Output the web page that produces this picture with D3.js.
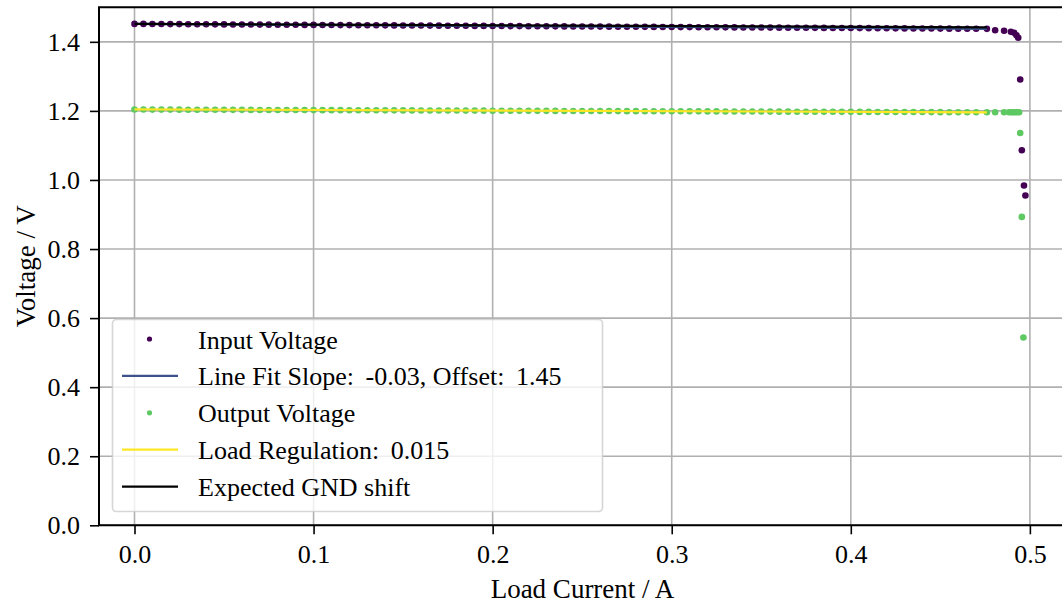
<!DOCTYPE html>
<html>
<head>
<meta charset="utf-8">
<script src="https://cdn.jsdelivr.net/npm/d3@7"></script>
<style>
  html, body { margin: 0; padding: 0; background: #fff; overflow: hidden; }
  text { font-family: 'Liberation Serif', 'Times New Roman', serif; fill: #000; }
</style>
</head>
<body>
<div id="myDiv"></div>
<script>
//--------------------------------------------------
// Data
//--------------------------------------------------
var inputCurrent = [
  0.000,0.005,0.010,0.015,0.020,0.025,0.030,0.035,0.040,0.045,
  0.050,0.055,0.060,0.065,0.070,0.075,0.080,0.085,0.090,0.095,
  0.100,0.105,0.110,0.115,0.120,0.125,0.130,0.135,0.140,0.145,
  0.150,0.155,0.160,0.165,0.170,0.175,0.180,0.185,0.190,0.195,
  0.200,0.205,0.210,0.215,0.220,0.225,0.230,0.235,0.240,0.245,
  0.250,0.255,0.260,0.265,0.270,0.275,0.280,0.285,0.290,0.295,
  0.300,0.305,0.310,0.315,0.320,0.325,0.330,0.335,0.340,0.345,
  0.350,0.355,0.360,0.365,0.370,0.375,0.380,0.385,0.390,0.395,
  0.400,0.405,0.410,0.415,0.420,0.425,0.430,0.435,0.440,0.445,
  0.450,0.455,0.460,0.465,0.470,0.476,
  0.4806,0.4856,0.4894,0.4912,0.4925,0.4935,0.4946,0.4955,0.4967,0.4975
];
var inputVoltage = [
  1.4520,1.4519,1.4517,1.4516,1.4514,1.4513,1.4511,1.4510,1.4508,1.4506,
  1.4505,1.4503,1.4502,1.4500,1.4499,1.4497,1.4496,1.4494,1.4493,1.4491,
  1.4490,1.4488,1.4487,1.4485,1.4484,1.4482,1.4481,1.4479,1.4478,1.4476,
  1.4475,1.4473,1.4472,1.4470,1.4469,1.4467,1.4466,1.4464,1.4462,1.4461,
  1.4459,1.4458,1.4456,1.4455,1.4453,1.4452,1.4450,1.4449,1.4447,1.4446,
  1.4444,1.4443,1.4441,1.4440,1.4438,1.4437,1.4435,1.4434,1.4432,1.4431,
  1.4429,1.4427,1.4426,1.4424,1.4423,1.4421,1.4420,1.4418,1.4417,1.4415,
  1.4414,1.4412,1.4411,1.4409,1.4408,1.4406,1.4405,1.4403,1.4402,1.4400,
  1.4399,1.4397,1.4396,1.4394,1.4392,1.4391,1.4389,1.4388,1.4386,1.4385,
  1.4383,1.4382,1.4380,1.4379,1.4377,1.4376,
  1.4336,1.4320,1.4290,1.4260,1.4190,1.4120,1.2910,1.0860,0.9840,0.9550
];
var outputCurrent = [
  0.000,0.005,0.010,0.015,0.020,0.025,0.030,0.035,0.040,0.045,
  0.050,0.055,0.060,0.065,0.070,0.075,0.080,0.085,0.090,0.095,
  0.100,0.105,0.110,0.115,0.120,0.125,0.130,0.135,0.140,0.145,
  0.150,0.155,0.160,0.165,0.170,0.175,0.180,0.185,0.190,0.195,
  0.200,0.205,0.210,0.215,0.220,0.225,0.230,0.235,0.240,0.245,
  0.250,0.255,0.260,0.265,0.270,0.275,0.280,0.285,0.290,0.295,
  0.300,0.305,0.310,0.315,0.320,0.325,0.330,0.335,0.340,0.345,
  0.350,0.355,0.360,0.365,0.370,0.375,0.380,0.385,0.390,0.395,
  0.400,0.405,0.410,0.415,0.420,0.425,0.430,0.435,0.440,0.445,
  0.450,0.455,0.460,0.465,0.470,0.476,
  0.4806,0.4856,0.4884,0.4896,0.4907,0.4918,0.4929,0.4940,0.4946,0.4955,0.4964
];
var outputVoltage = [
  1.2040,1.2039,1.2038,1.2038,1.2037,1.2036,1.2035,1.2034,1.2033,1.2032,
  1.2032,1.2031,1.2030,1.2029,1.2028,1.2027,1.2027,1.2026,1.2025,1.2024,
  1.2023,1.2022,1.2021,1.2021,1.2020,1.2019,1.2018,1.2017,1.2016,1.2016,
  1.2015,1.2014,1.2013,1.2012,1.2011,1.2010,1.2010,1.2009,1.2008,1.2007,
  1.2006,1.2005,1.2004,1.2004,1.2003,1.2002,1.2001,1.2000,1.1999,1.1999,
  1.1998,1.1997,1.1996,1.1995,1.1994,1.1993,1.1993,1.1992,1.1991,1.1990,
  1.1989,1.1988,1.1988,1.1987,1.1986,1.1985,1.1984,1.1983,1.1982,1.1982,
  1.1981,1.1980,1.1979,1.1978,1.1977,1.1977,1.1976,1.1975,1.1974,1.1973,
  1.1972,1.1971,1.1971,1.1970,1.1969,1.1968,1.1967,1.1966,1.1966,1.1965,
  1.1964,1.1963,1.1962,1.1961,1.1960,1.1960,
  1.1960,1.1960,1.1960,1.1960,1.1960,1.1960,1.1960,1.1960,1.1360,0.8930,0.5440
];

// fitted lines (two end points each)
var fitCurrent = [0, 0.476];
var lineFitVoltage = [1.4520, 1.4377];
var loadRegVoltage = [1.2045, 1.1960];
var gndShiftVoltage = [1.4520, 1.4420];

var xTicks = [0.0, 0.1, 0.2, 0.3, 0.4, 0.5];
var yTicks = [0.0, 0.2, 0.4, 0.6, 0.8, 1.0, 1.2, 1.4];

var legendLabels = [
  'Input Voltage',
  'Line Fit Slope: -0.03, Offset: 1.45',
  'Output Voltage',
  'Load Regulation: 0.015',
  'Expected GND shift'
];

//--------------------------------------------------
// Style
//--------------------------------------------------
var inColor = '#440154';
var fitColor = '#3b528b';
var outColor = '#5ec962';
var regColor = '#fde725';
var gndColor = '#000000';
var gridColor = '#b0b0b0';
var tickFont = 26;
var labelFont = 27;
var legendFont = 26;

var winWidth = 1062, winHeight = 603;
var plot = {left: 99, top: 7.3, right: 1066, bottom: 525.3};

var svg = d3.select('#myDiv')
  .append('svg')
    .attr('width', winWidth)
    .attr('height', winHeight);

var x = d3.scaleLinear()
  .domain([-0.01982, 0.52017])
  .range([plot.left, plot.right]);

var y = d3.scaleLinear()
  .domain([0, 1.5])
  .range([plot.bottom, plot.top]);

// grid
var grid = svg.append('g').attr('class', 'grid');
grid.selectAll('line.gx')
  .data(xTicks)
  .enter().append('line')
  .attr('x1', function (d) { return x(d); })
  .attr('x2', function (d) { return x(d); })
  .attr('y1', plot.top)
  .attr('y2', plot.bottom)
  .attr('stroke', gridColor)
  .attr('stroke-width', 1.6);
grid.selectAll('line.gy')
  .data(yTicks)
  .enter().append('line')
  .attr('x1', plot.left)
  .attr('x2', plot.right)
  .attr('y1', function (d) { return y(d); })
  .attr('y2', function (d) { return y(d); })
  .attr('stroke', gridColor)
  .attr('stroke-width', 1.6);

// series
function dots(xs, ys, color) {
  svg.append('g')
    .selectAll('circle')
    .data(xs)
    .enter().append('circle')
    .attr('cx', function (d) { return x(d); })
    .attr('cy', function (d, i) { return y(ys[i]); })
    .attr('r', 3.3)
    .attr('fill', color);
}
function fitLine(ys, color) {
  var line = d3.line()
    .x(function (d) { return x(d); })
    .y(function (d, i) { return y(ys[i]); });
  svg.append('path')
    .datum(fitCurrent)
    .attr('d', line)
    .attr('fill', 'none')
    .attr('stroke', color)
    .attr('stroke-width', 2.2);
}

dots(inputCurrent, inputVoltage, inColor);
fitLine(lineFitVoltage, fitColor);
dots(outputCurrent, outputVoltage, outColor);
fitLine(loadRegVoltage, regColor);
fitLine(gndShiftVoltage, gndColor);

// axes
var xAxis = svg.append('g')
  .attr('transform', 'translate(0,' + plot.bottom + ')')
  .call(d3.axisBottom(x).tickValues(xTicks).tickFormat(d3.format('.1f')).tickSize(9).tickPadding(10));
var yAxis = svg.append('g')
  .attr('transform', 'translate(' + plot.left + ',0)')
  .call(d3.axisLeft(y).tickValues(yTicks).tickFormat(d3.format('.1f')).tickSize(9).tickPadding(10));

[xAxis, yAxis].forEach(function (a) {
  a.select('.domain').remove();
  a.selectAll('.tick line').attr('stroke', '#000').attr('stroke-width', 1.6);
  a.selectAll('.tick text')
    .attr('font-family', "'Liberation Serif', serif")
    .attr('font-size', tickFont)
    .attr('fill', '#000');
});

// spines (left, top, bottom)
svg.append('path')
  .attr('d', 'M' + plot.right + ',' + plot.top + 'H' + plot.left + 'V' + plot.bottom + 'H' + plot.right)
  .attr('fill', 'none')
  .attr('stroke', '#000')
  .attr('stroke-width', 2);

// axis labels
svg.append('text')
  .attr('x', (plot.left + plot.right) / 2)
  .attr('y', 598)
  .attr('text-anchor', 'middle')
  .attr('font-size', labelFont)
  .text('Load Current / A');

svg.append('text')
  .attr('transform', 'translate(35,' + ((plot.top + plot.bottom) / 2) + ') rotate(-90)')
  .attr('text-anchor', 'middle')
  .attr('font-size', labelFont)
  .text('Voltage / V');

// legend
var legend = svg.append('g').attr('class', 'legend');
legend.append('rect')
  .attr('x', 112.5)
  .attr('y', 319.5)
  .attr('width', 490)
  .attr('height', 192)
  .attr('rx', 4)
  .attr('fill', 'rgba(255,255,255,0.8)')
  .attr('stroke', 'rgba(204,204,204,0.8)')
  .attr('stroke-width', 1.6);

var legendKinds = ['dot', 'line', 'dot', 'line', 'line'];
var legendColors = [inColor, fitColor, outColor, regColor, gndColor];

var rows = legend.selectAll('g.row')
  .data(legendLabels)
  .enter().append('g')
  .attr('transform', function (d, i) { return 'translate(0,' + (339 + i * 36.9) + ')'; });

rows.each(function (d, i) {
  var g = d3.select(this);
  if (legendKinds[i] === 'dot') {
    g.append('circle').attr('cx', 149.5).attr('cy', 0).attr('r', 2.6).attr('fill', legendColors[i]);
  } else {
    g.append('line').attr('x1', 122).attr('x2', 178).attr('y1', 0).attr('y2', 0)
      .attr('stroke', legendColors[i]).attr('stroke-width', 2.2);
  }
  // wider space after a colon, as in the LaTeX-set original
  var parts = d.split(': ');
  var t = g.append('text')
    .attr('x', 198)
    .attr('y', 9.5)
    .attr('font-size', legendFont);
  parts.forEach(function (part, k) {
    var s = (k > 0 ? ' ' : '') + part + (k < parts.length - 1 ? ':' : '');
    t.append('tspan')
      .attr('dx', k > 0 ? 5 : 0)
      .text(s);
  });
});
</script>
</body>
</html>
